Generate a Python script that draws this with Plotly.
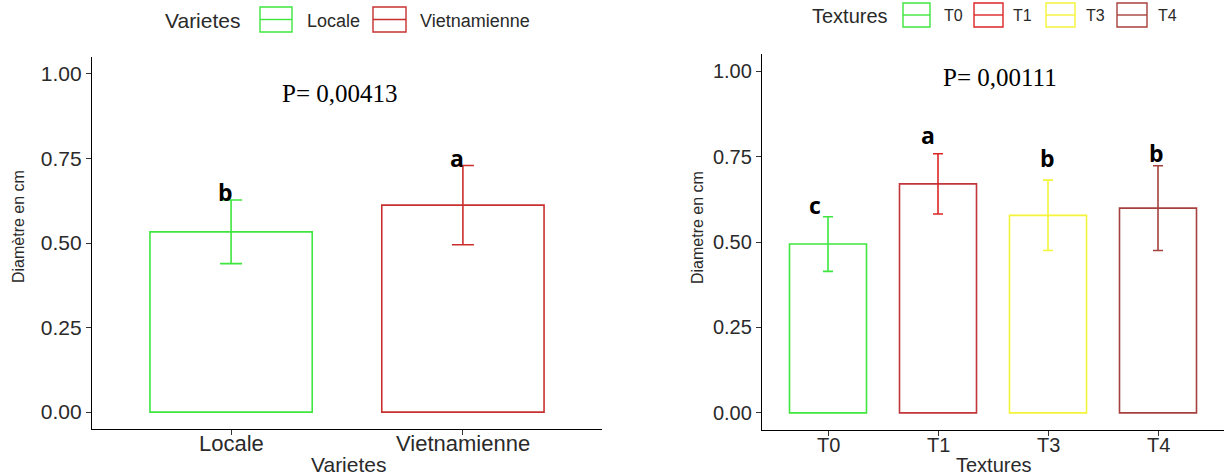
import plotly.graph_objects as go

# ---------------- data ----------------
varietes = ["Locale", "Vietnamienne"]
var_means = [0.533, 0.612]
var_err = [0.094, 0.117]
var_letters = ["b", "a"]
p_left = "P= 0,00413"

textures = ["T0", "T1", "T3", "T4"]
tex_means = [0.494, 0.670, 0.578, 0.599]
tex_err = [0.080, 0.088, 0.103, 0.124]
tex_letters = ["c", "a", "b", "b"]
p_right = "P= 0,00111"

y_ticks = [0.0, 0.25, 0.50, 0.75, 1.00]
y_ticktext = ["0.00", "0.25", "0.50", "0.75", "1.00"]

# ---------------- style ----------------
W, H = 1224, 476
var_line_colors = ["#3ee63e", "#c8302f"]
var_err_colors = ["#3ee63e", "#cc2e2e"]
tex_line_colors = ["#3ee63e", "#c2353a", "#f4f43a", "#a6403e"]
tex_err_colors = ["#3ee63e", "#dc2626", "#f4f43a", "#a6403e"]
SANS = "Liberation Sans, Arial, sans-serif"
NARROW = "Liberation Sans Narrow, Arial Narrow, sans-serif"
SERIF = "Liberation Serif, Times New Roman, serif"
BOLD = "Open Sans, sans-serif"
TXT = "#2a2a2a"


def px(x, y):
    return x / W, 1 - y / H


fig = go.Figure()

for i, cat in enumerate(varietes):
    fig.add_trace(go.Bar(
        x=[cat], y=[var_means[i]], width=0.7,
        marker=dict(color="rgba(255,255,255,0)", line=dict(color=var_line_colors[i], width=1.6)),
        error_y=dict(type="data", array=[var_err[i]], color=var_err_colors[i], thickness=1.6, width=11),
        xaxis="x", yaxis="y", showlegend=False,
    ))

for i, cat in enumerate(textures):
    fig.add_trace(go.Bar(
        x=[cat], y=[tex_means[i]], width=0.7,
        marker=dict(color="rgba(255,255,255,0)", line=dict(color=tex_line_colors[i], width=1.6)),
        error_y=dict(type="data", array=[tex_err[i]], color=tex_err_colors[i], thickness=1.6, width=5),
        xaxis="x2", yaxis="y2", showlegend=False,
    ))

axis_common = dict(
    showline=True, linecolor="black", linewidth=1.3, showgrid=False, zeroline=False,
    ticks="outside", ticklen=5, tickwidth=1.3, tickcolor="#333333",
)

fig.update_layout(
    width=W, height=H, margin=dict(l=0, r=0, t=0, b=0),
    paper_bgcolor="white", plot_bgcolor="white", barmode="overlay",
    xaxis=dict(domain=[92 / W, 602 / W], range=[-0.6, 1.6], type="category",
               categoryorder="array", categoryarray=varietes, anchor="y",
               showticklabels=False, **axis_common),
    yaxis=dict(domain=[47 / H, 419 / H], range=[-0.05, 1.05], anchor="x",
               tickvals=y_ticks, ticktext=y_ticktext,
               tickfont=dict(family=SANS, size=21, color=TXT), **axis_common),
    xaxis2=dict(domain=[762 / W, 1.0], range=[-0.6, 3.6], type="category",
                categoryorder="array", categoryarray=textures, anchor="y2",
                showticklabels=False, **axis_common),
    yaxis2=dict(domain=[46 / H, 422 / H], range=[-0.05, 1.05], anchor="x2",
                tickvals=y_ticks, ticktext=y_ticktext,
                tickfont=dict(family=SANS, size=20, color=TXT), **axis_common),
)

ann = []

# x tick labels (placed closer to the axis than plotly's default)
for cat in varietes:
    ann.append(dict(x=cat, y=1 - 443 / H, xref="x", yref="paper", text=cat, showarrow=False,
                    xanchor="center", yanchor="middle",
                    font=dict(family=SANS, size=22, color=TXT)))
for cat in textures:
    ann.append(dict(x=cat, y=1 - 445 / H, xref="x2", yref="paper", text=cat, showarrow=False,
                    xanchor="center", yanchor="middle",
                    font=dict(family=SANS, size=20, color=TXT)))

# axis titles
for (x, y, t, ang, fam, sz) in [
    (348, 464, "Varietes", 0, SANS, 21),
    (994, 465, "Textures", 0, SANS, 20),
    (18, 227, "Diamètre en cm", -90, NARROW, 16),
    (697, 228, "Diametre en cm", -90, NARROW, 16),
]:
    xp, yp = px(x, y)
    ann.append(dict(x=xp, y=yp, xref="paper", yref="paper", text=t, textangle=ang,
                    showarrow=False, xanchor="center", yanchor="middle",
                    font=dict(family=fam, size=sz, color=TXT)))

# P values
for (x, y, t) in [(340, 94, p_left), (1000, 78, p_right)]:
    xp, yp = px(x, y)
    ann.append(dict(x=xp, y=yp, xref="paper", yref="paper", text=t, showarrow=False,
                    xanchor="center", yanchor="middle",
                    font=dict(family=SERIF, size=25, color="black")))

# significance letters
var_shift = [(-6, 8), (-6, 8)]
for i, cat in enumerate(varietes):
    ann.append(dict(x=cat, y=var_means[i] + var_err[i], xref="x", yref="y",
                    text="<b>%s</b>" % var_letters[i], showarrow=False,
                    xanchor="center", yanchor="middle",
                    xshift=var_shift[i][0], yshift=var_shift[i][1],
                    font=dict(family=BOLD, size=23, color="black")))
tex_shift = [(-13, 12), (-10, 19), (-1, 22), (-2, 13)]
for i, cat in enumerate(textures):
    ann.append(dict(x=cat, y=tex_means[i] + tex_err[i], xref="x2", yref="y2",
                    text="<b>%s</b>" % tex_letters[i], showarrow=False,
                    xanchor="center", yanchor="middle",
                    xshift=tex_shift[i][0], yshift=tex_shift[i][1],
                    font=dict(family=BOLD, size=23, color="black")))

# manual legends
shapes = []


def legend_key(x0, y0, x1, y1, color):
    a0, b0 = px(x0, y0)
    a1, b1 = px(x1, y1)
    shapes.append(dict(type="rect", xref="paper", yref="paper", x0=a0, y0=b1, x1=a1, y1=b0,
                       line=dict(color=color, width=1.4), fillcolor="rgba(0,0,0,0)"))
    ym = (b0 + b1) / 2
    shapes.append(dict(type="line", xref="paper", yref="paper", x0=a0, y0=ym, x1=a1, y1=ym,
                       line=dict(color=color, width=1.4)))


def legend_text(x, y, t, size):
    xp, yp = px(x, y)
    ann.append(dict(x=xp, y=yp, xref="paper", yref="paper", text=t, showarrow=False,
                    xanchor="left", yanchor="middle",
                    font=dict(family=SANS, size=size, color=TXT)))


legend_text(163, 21, "Varietes", 21)
left_keys = [(260, 292), (373, 406)]
left_lbl = [305, 418]
for i, cat in enumerate(varietes):
    legend_key(left_keys[i][0], 7, left_keys[i][1], 32, var_line_colors[i])
    legend_text(left_lbl[i], 21, cat, 18)

legend_text(810, 16, "Textures", 20)
right_keys = [(903, 930), (974, 1003), (1046, 1075), (1117, 1147)]
right_lbl = [942, 1011, 1084, 1156]
for i, cat in enumerate(textures):
    legend_key(right_keys[i][0], 3, right_keys[i][1], 27, tex_err_colors[i])
    legend_text(right_lbl[i], 16, cat, 16)

fig.update_layout(annotations=ann, shapes=shapes)
fig.write_html("out.html")
